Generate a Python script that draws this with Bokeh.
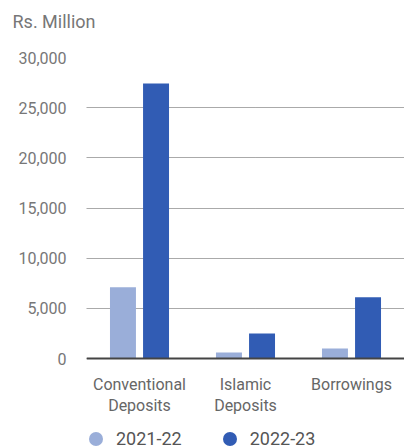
from bokeh.plotting import figure
from bokeh.models import FactorRange, Range1d, Legend, LegendItem, NumeralTickFormatter, ColumnDataSource, Span
from bokeh.core.properties import value
from bokeh.transform import dodge
from bokeh.embed import file_html
from bokeh.resources import INLINE

categories = ["Conventional\nDeposits", "Islamic\nDeposits", "Borrowings"]
series_names = ["2021-22", "2022-23"]
values_2021_22 = [7100, 600, 1000]
values_2022_23 = [27400, 2500, 6100]
y_ticks = [0, 5000, 10000, 15000, 20000, 25000, 30000]

light = "#9aaed9"
dark = "#315cb4"
FONT = "Roboto"

# frame geometry: 0 at 301px below 30,000, with 88px under the baseline for labels and legend
Y_MAX = 30000
PX_TOP = 301
PX_BELOW = 88
y_min = -PX_BELOW * Y_MAX / PX_TOP

src = ColumnDataSource(dict(cat=categories, a=values_2021_22, b=values_2022_23,
                            zero=[0] * len(categories)))

p = figure(width=404, height=446, x_range=FactorRange(*categories, range_padding=0),
           y_range=Range1d(y_min, Y_MAX), output_backend="svg", toolbar_location=None,
           min_border_left=86, min_border_right=0, min_border_top=57, min_border_bottom=0,
           title="Rs. Million\n ", x_axis_location=None)
p.outline_line_color = None
p.background_fill_color = None
p.border_fill_color = "white"

p.title.align = "left"
p.title.offset = -74
p.title.text_font = FONT
p.title.text_font_size = "18px"
p.title.text_font_style = "normal"
p.title.text_color = "#777777"
p.title.standoff = 10

p.vbar(x=dodge("cat", -0.156, range=p.x_range), top="a", width=0.245, source=src,
       fill_color=light, line_color=None)
p.vbar(x=dodge("cat", 0.156, range=p.x_range), top="b", width=0.245, source=src,
       fill_color=dark, line_color=None)

p.yaxis.ticker = y_ticks
p.yaxis.formatter = NumeralTickFormatter(format="0,0")
p.yaxis.axis_line_color = None
p.yaxis.major_tick_line_color = None
p.yaxis.minor_tick_line_color = None
p.yaxis.major_label_standoff = 14
p.yaxis.major_label_text_font = FONT
p.yaxis.major_label_text_font_size = "16px"
p.yaxis.major_label_text_color = "#777777"

p.xgrid.grid_line_color = None
p.ygrid.grid_line_color = "#555555"
p.ygrid.grid_line_dash = "1 1"
p.ygrid.grid_line_width = 1

p.add_layout(Span(location=0, dimension="width", line_color="#444444", line_width=2))

p.text(x="cat", y="zero", text="cat", source=src, text_align="center",
       text_baseline="top", y_offset=16, text_font=value(FONT), text_font_size="16px",
       text_color="#666666", text_line_height=1.15)

# legend markers: one point each, placed below the visible range
hidden = ColumnDataSource(dict(x=[categories[0]], y=[10 * y_min]))
r1 = p.scatter(x="x", y="y", source=hidden, marker="circle", size=14,
               fill_color=light, line_color=None)
r2 = p.scatter(x="x", y="y", source=hidden, marker="circle", size=14,
               fill_color=dark, line_color=None)
legend = Legend(items=[LegendItem(label=series_names[0], renderers=[r1]),
                       LegendItem(label=series_names[1], renderers=[r2])],
                orientation="horizontal", location=(-8, -10), padding=0, margin=0,
                glyph_width=35, glyph_height=35, label_standoff=3, spacing=30,
                label_text_font=FONT, label_text_font_size="18px",
                label_text_color="#555555", background_fill_alpha=0,
                border_line_color=None)
p.add_layout(legend, "center")

open("out.html", "w").write(file_html(p, INLINE))
